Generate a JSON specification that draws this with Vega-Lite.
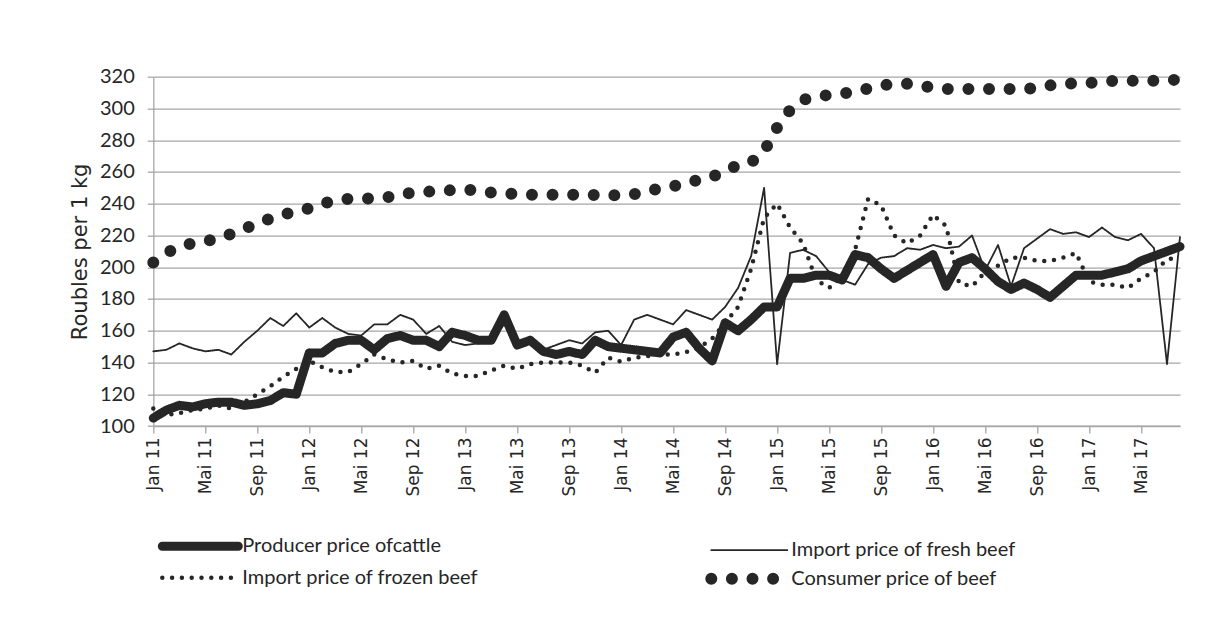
{
"$schema":"https://vega.github.io/schema/vega-lite/v6.json",
"autosize":"none",
"width":1026.7,
"height":349.3,
"padding":{"left":153.3,"top":76.7,"right":35,"bottom":211},
"background":"white",
"config":{"view":{"stroke":null}},
"data":{"values":[
{"m":"Jan 11","s":"Producer price ofcattle","v":105},{"m":"Feb 11","s":"Producer price ofcattle","v":110},{"m":"Mär 11","s":"Producer price ofcattle","v":113},{"m":"Apr 11","s":"Producer price ofcattle","v":112},{"m":"Mai 11","s":"Producer price ofcattle","v":114},{"m":"Jun 11","s":"Producer price ofcattle","v":115},{"m":"Jul 11","s":"Producer price ofcattle","v":115},{"m":"Aug 11","s":"Producer price ofcattle","v":113},{"m":"Sep 11","s":"Producer price ofcattle","v":114},{"m":"Okt 11","s":"Producer price ofcattle","v":116},{"m":"Nov 11","s":"Producer price ofcattle","v":121},{"m":"Dez 11","s":"Producer price ofcattle","v":120},
{"m":"Jan 12","s":"Producer price ofcattle","v":146},{"m":"Feb 12","s":"Producer price ofcattle","v":146},{"m":"Mär 12","s":"Producer price ofcattle","v":152},{"m":"Apr 12","s":"Producer price ofcattle","v":154},{"m":"Mai 12","s":"Producer price ofcattle","v":154},{"m":"Jun 12","s":"Producer price ofcattle","v":148},{"m":"Jul 12","s":"Producer price ofcattle","v":155},{"m":"Aug 12","s":"Producer price ofcattle","v":157},{"m":"Sep 12","s":"Producer price ofcattle","v":154},{"m":"Okt 12","s":"Producer price ofcattle","v":154},{"m":"Nov 12","s":"Producer price ofcattle","v":150},{"m":"Dez 12","s":"Producer price ofcattle","v":159},
{"m":"Jan 13","s":"Producer price ofcattle","v":157},{"m":"Feb 13","s":"Producer price ofcattle","v":154},{"m":"Mär 13","s":"Producer price ofcattle","v":154},{"m":"Apr 13","s":"Producer price ofcattle","v":170},{"m":"Mai 13","s":"Producer price ofcattle","v":151},{"m":"Jun 13","s":"Producer price ofcattle","v":154},{"m":"Jul 13","s":"Producer price ofcattle","v":147},{"m":"Aug 13","s":"Producer price ofcattle","v":145},{"m":"Sep 13","s":"Producer price ofcattle","v":147},{"m":"Okt 13","s":"Producer price ofcattle","v":145},{"m":"Nov 13","s":"Producer price ofcattle","v":154},{"m":"Dez 13","s":"Producer price ofcattle","v":150},
{"m":"Jan 14","s":"Producer price ofcattle","v":149},{"m":"Feb 14","s":"Producer price ofcattle","v":148},{"m":"Mär 14","s":"Producer price ofcattle","v":147},{"m":"Apr 14","s":"Producer price ofcattle","v":146},{"m":"Mai 14","s":"Producer price ofcattle","v":156},{"m":"Jun 14","s":"Producer price ofcattle","v":159},{"m":"Jul 14","s":"Producer price ofcattle","v":149},{"m":"Aug 14","s":"Producer price ofcattle","v":141},{"m":"Sep 14","s":"Producer price ofcattle","v":165},{"m":"Okt 14","s":"Producer price ofcattle","v":160},{"m":"Nov 14","s":"Producer price ofcattle","v":167},{"m":"Dez 14","s":"Producer price ofcattle","v":175},
{"m":"Jan 15","s":"Producer price ofcattle","v":175},{"m":"Feb 15","s":"Producer price ofcattle","v":193},{"m":"Mär 15","s":"Producer price ofcattle","v":193},{"m":"Apr 15","s":"Producer price ofcattle","v":195},{"m":"Mai 15","s":"Producer price ofcattle","v":195},{"m":"Jun 15","s":"Producer price ofcattle","v":192},{"m":"Jul 15","s":"Producer price ofcattle","v":208},{"m":"Aug 15","s":"Producer price ofcattle","v":206},{"m":"Sep 15","s":"Producer price ofcattle","v":199},{"m":"Okt 15","s":"Producer price ofcattle","v":193},{"m":"Nov 15","s":"Producer price ofcattle","v":198},{"m":"Dez 15","s":"Producer price ofcattle","v":203},
{"m":"Jan 16","s":"Producer price ofcattle","v":208},{"m":"Feb 16","s":"Producer price ofcattle","v":188},{"m":"Mär 16","s":"Producer price ofcattle","v":203},{"m":"Apr 16","s":"Producer price ofcattle","v":206},{"m":"Mai 16","s":"Producer price ofcattle","v":199},{"m":"Jun 16","s":"Producer price ofcattle","v":191},{"m":"Jul 16","s":"Producer price ofcattle","v":186},{"m":"Aug 16","s":"Producer price ofcattle","v":190},{"m":"Sep 16","s":"Producer price ofcattle","v":186},{"m":"Okt 16","s":"Producer price ofcattle","v":181},{"m":"Nov 16","s":"Producer price ofcattle","v":188},{"m":"Dez 16","s":"Producer price ofcattle","v":195},
{"m":"Jan 17","s":"Producer price ofcattle","v":195},{"m":"Feb 17","s":"Producer price ofcattle","v":195},{"m":"Mär 17","s":"Producer price ofcattle","v":197},{"m":"Apr 17","s":"Producer price ofcattle","v":199},{"m":"Mai 17","s":"Producer price ofcattle","v":204},{"m":"Jun 17","s":"Producer price ofcattle","v":207},{"m":"Jul 17","s":"Producer price ofcattle","v":210},{"m":"Aug 17","s":"Producer price ofcattle","v":213},

{"m":"Jan 11","s":"Import price of fresh beef","v":147},{"m":"Feb 11","s":"Import price of fresh beef","v":148},{"m":"Mär 11","s":"Import price of fresh beef","v":152},{"m":"Apr 11","s":"Import price of fresh beef","v":149},{"m":"Mai 11","s":"Import price of fresh beef","v":147},{"m":"Jun 11","s":"Import price of fresh beef","v":148},{"m":"Jul 11","s":"Import price of fresh beef","v":145},{"m":"Aug 11","s":"Import price of fresh beef","v":153},{"m":"Sep 11","s":"Import price of fresh beef","v":160},{"m":"Okt 11","s":"Import price of fresh beef","v":168},{"m":"Nov 11","s":"Import price of fresh beef","v":163},{"m":"Dez 11","s":"Import price of fresh beef","v":171},
{"m":"Jan 12","s":"Import price of fresh beef","v":162},{"m":"Feb 12","s":"Import price of fresh beef","v":168},{"m":"Mär 12","s":"Import price of fresh beef","v":162},{"m":"Apr 12","s":"Import price of fresh beef","v":158},{"m":"Mai 12","s":"Import price of fresh beef","v":157},{"m":"Jun 12","s":"Import price of fresh beef","v":164},{"m":"Jul 12","s":"Import price of fresh beef","v":164},{"m":"Aug 12","s":"Import price of fresh beef","v":170},{"m":"Sep 12","s":"Import price of fresh beef","v":167},{"m":"Okt 12","s":"Import price of fresh beef","v":158},{"m":"Nov 12","s":"Import price of fresh beef","v":163},{"m":"Dez 12","s":"Import price of fresh beef","v":153},
{"m":"Jan 13","s":"Import price of fresh beef","v":151},{"m":"Feb 13","s":"Import price of fresh beef","v":152},{"m":"Mär 13","s":"Import price of fresh beef","v":154},{"m":"Apr 13","s":"Import price of fresh beef","v":164},{"m":"Mai 13","s":"Import price of fresh beef","v":153},{"m":"Jun 13","s":"Import price of fresh beef","v":152},{"m":"Jul 13","s":"Import price of fresh beef","v":148},{"m":"Aug 13","s":"Import price of fresh beef","v":151},{"m":"Sep 13","s":"Import price of fresh beef","v":154},{"m":"Okt 13","s":"Import price of fresh beef","v":152},{"m":"Nov 13","s":"Import price of fresh beef","v":159},{"m":"Dez 13","s":"Import price of fresh beef","v":160},
{"m":"Jan 14","s":"Import price of fresh beef","v":151},{"m":"Feb 14","s":"Import price of fresh beef","v":167},{"m":"Mär 14","s":"Import price of fresh beef","v":170},{"m":"Apr 14","s":"Import price of fresh beef","v":167},{"m":"Mai 14","s":"Import price of fresh beef","v":164},{"m":"Jun 14","s":"Import price of fresh beef","v":173},{"m":"Jul 14","s":"Import price of fresh beef","v":170},{"m":"Aug 14","s":"Import price of fresh beef","v":167},{"m":"Sep 14","s":"Import price of fresh beef","v":175},{"m":"Okt 14","s":"Import price of fresh beef","v":187},{"m":"Nov 14","s":"Import price of fresh beef","v":207},{"m":"Dez 14","s":"Import price of fresh beef","v":250},
{"m":"Jan 15","s":"Import price of fresh beef","v":139},{"m":"Feb 15","s":"Import price of fresh beef","v":209},{"m":"Mär 15","s":"Import price of fresh beef","v":211},{"m":"Apr 15","s":"Import price of fresh beef","v":207},{"m":"Mai 15","s":"Import price of fresh beef","v":197},{"m":"Jun 15","s":"Import price of fresh beef","v":192},{"m":"Jul 15","s":"Import price of fresh beef","v":189},{"m":"Aug 15","s":"Import price of fresh beef","v":202},{"m":"Sep 15","s":"Import price of fresh beef","v":206},{"m":"Okt 15","s":"Import price of fresh beef","v":207},{"m":"Nov 15","s":"Import price of fresh beef","v":212},{"m":"Dez 15","s":"Import price of fresh beef","v":211},
{"m":"Jan 16","s":"Import price of fresh beef","v":214},{"m":"Feb 16","s":"Import price of fresh beef","v":212},{"m":"Mär 16","s":"Import price of fresh beef","v":213},{"m":"Apr 16","s":"Import price of fresh beef","v":220},{"m":"Mai 16","s":"Import price of fresh beef","v":198},{"m":"Jun 16","s":"Import price of fresh beef","v":214},{"m":"Jul 16","s":"Import price of fresh beef","v":188},{"m":"Aug 16","s":"Import price of fresh beef","v":212},{"m":"Sep 16","s":"Import price of fresh beef","v":218},{"m":"Okt 16","s":"Import price of fresh beef","v":224},{"m":"Nov 16","s":"Import price of fresh beef","v":221},{"m":"Dez 16","s":"Import price of fresh beef","v":222},
{"m":"Jan 17","s":"Import price of fresh beef","v":219},{"m":"Feb 17","s":"Import price of fresh beef","v":225},{"m":"Mär 17","s":"Import price of fresh beef","v":219},{"m":"Apr 17","s":"Import price of fresh beef","v":217},{"m":"Mai 17","s":"Import price of fresh beef","v":221},{"m":"Jun 17","s":"Import price of fresh beef","v":212},{"m":"Jul 17","s":"Import price of fresh beef","v":139},{"m":"Aug 17","s":"Import price of fresh beef","v":219},

{"m":"Jan 11","s":"Import price of frozen beef","v":111},{"m":"Feb 11","s":"Import price of frozen beef","v":107},{"m":"Mär 11","s":"Import price of frozen beef","v":108},{"m":"Apr 11","s":"Import price of frozen beef","v":110},{"m":"Mai 11","s":"Import price of frozen beef","v":111},{"m":"Jun 11","s":"Import price of frozen beef","v":113},{"m":"Jul 11","s":"Import price of frozen beef","v":111},{"m":"Aug 11","s":"Import price of frozen beef","v":115},{"m":"Sep 11","s":"Import price of frozen beef","v":120},{"m":"Okt 11","s":"Import price of frozen beef","v":125},{"m":"Nov 11","s":"Import price of frozen beef","v":131},{"m":"Dez 11","s":"Import price of frozen beef","v":136},
{"m":"Jan 12","s":"Import price of frozen beef","v":141},{"m":"Feb 12","s":"Import price of frozen beef","v":137},{"m":"Mär 12","s":"Import price of frozen beef","v":134},{"m":"Apr 12","s":"Import price of frozen beef","v":134},{"m":"Mai 12","s":"Import price of frozen beef","v":139},{"m":"Jun 12","s":"Import price of frozen beef","v":145},{"m":"Jul 12","s":"Import price of frozen beef","v":142},{"m":"Aug 12","s":"Import price of frozen beef","v":140},{"m":"Sep 12","s":"Import price of frozen beef","v":141},{"m":"Okt 12","s":"Import price of frozen beef","v":136},{"m":"Nov 12","s":"Import price of frozen beef","v":138},{"m":"Dez 12","s":"Import price of frozen beef","v":133},
{"m":"Jan 13","s":"Import price of frozen beef","v":131.5},{"m":"Feb 13","s":"Import price of frozen beef","v":131.5},{"m":"Mär 13","s":"Import price of frozen beef","v":135},{"m":"Apr 13","s":"Import price of frozen beef","v":138},{"m":"Mai 13","s":"Import price of frozen beef","v":136},{"m":"Jun 13","s":"Import price of frozen beef","v":139},{"m":"Jul 13","s":"Import price of frozen beef","v":140},{"m":"Aug 13","s":"Import price of frozen beef","v":140},{"m":"Sep 13","s":"Import price of frozen beef","v":140},{"m":"Okt 13","s":"Import price of frozen beef","v":138},{"m":"Nov 13","s":"Import price of frozen beef","v":133.5},{"m":"Dez 13","s":"Import price of frozen beef","v":143},
{"m":"Jan 14","s":"Import price of frozen beef","v":140.5},{"m":"Feb 14","s":"Import price of frozen beef","v":143},{"m":"Mär 14","s":"Import price of frozen beef","v":144},{"m":"Apr 14","s":"Import price of frozen beef","v":145},{"m":"Mai 14","s":"Import price of frozen beef","v":145},{"m":"Jun 14","s":"Import price of frozen beef","v":146.5},{"m":"Jul 14","s":"Import price of frozen beef","v":149.5},{"m":"Aug 14","s":"Import price of frozen beef","v":155},{"m":"Sep 14","s":"Import price of frozen beef","v":165},{"m":"Okt 14","s":"Import price of frozen beef","v":175},{"m":"Nov 14","s":"Import price of frozen beef","v":199},{"m":"Dez 14","s":"Import price of frozen beef","v":231},
{"m":"Jan 15","s":"Import price of frozen beef","v":240},{"m":"Feb 15","s":"Import price of frozen beef","v":225},{"m":"Mär 15","s":"Import price of frozen beef","v":215},{"m":"Apr 15","s":"Import price of frozen beef","v":192},{"m":"Mai 15","s":"Import price of frozen beef","v":187},{"m":"Jun 15","s":"Import price of frozen beef","v":194},{"m":"Jul 15","s":"Import price of frozen beef","v":211},{"m":"Aug 15","s":"Import price of frozen beef","v":243},{"m":"Sep 15","s":"Import price of frozen beef","v":239},{"m":"Okt 15","s":"Import price of frozen beef","v":220},{"m":"Nov 15","s":"Import price of frozen beef","v":215},{"m":"Dez 15","s":"Import price of frozen beef","v":220},
{"m":"Jan 16","s":"Import price of frozen beef","v":233},{"m":"Feb 16","s":"Import price of frozen beef","v":226},{"m":"Mär 16","s":"Import price of frozen beef","v":190},{"m":"Apr 16","s":"Import price of frozen beef","v":188},{"m":"Mai 16","s":"Import price of frozen beef","v":197},{"m":"Jun 16","s":"Import price of frozen beef","v":201},{"m":"Jul 16","s":"Import price of frozen beef","v":206},{"m":"Aug 16","s":"Import price of frozen beef","v":206},{"m":"Sep 16","s":"Import price of frozen beef","v":204},{"m":"Okt 16","s":"Import price of frozen beef","v":204},{"m":"Nov 16","s":"Import price of frozen beef","v":206},{"m":"Dez 16","s":"Import price of frozen beef","v":209},
{"m":"Jan 17","s":"Import price of frozen beef","v":191},{"m":"Feb 17","s":"Import price of frozen beef","v":189},{"m":"Mär 17","s":"Import price of frozen beef","v":189},{"m":"Apr 17","s":"Import price of frozen beef","v":187},{"m":"Mai 17","s":"Import price of frozen beef","v":193},{"m":"Jun 17","s":"Import price of frozen beef","v":197},{"m":"Jul 17","s":"Import price of frozen beef","v":205},{"m":"Aug 17","s":"Import price of frozen beef","v":206},

{"m":"Jan 11","s":"Consumer price of beef","v":203},{"m":"Feb 11","s":"Consumer price of beef","v":209},{"m":"Mär 11","s":"Consumer price of beef","v":213},{"m":"Apr 11","s":"Consumer price of beef","v":215},{"m":"Mai 11","s":"Consumer price of beef","v":216.5},{"m":"Jun 11","s":"Consumer price of beef","v":218},{"m":"Jul 11","s":"Consumer price of beef","v":221},{"m":"Aug 11","s":"Consumer price of beef","v":224},{"m":"Sep 11","s":"Consumer price of beef","v":228},{"m":"Okt 11","s":"Consumer price of beef","v":230.5},{"m":"Nov 11","s":"Consumer price of beef","v":233},{"m":"Dez 11","s":"Consumer price of beef","v":235.5},
{"m":"Jan 12","s":"Consumer price of beef","v":237},{"m":"Feb 12","s":"Consumer price of beef","v":240},{"m":"Mär 12","s":"Consumer price of beef","v":242},{"m":"Apr 12","s":"Consumer price of beef","v":243},{"m":"Mai 12","s":"Consumer price of beef","v":243},{"m":"Jun 12","s":"Consumer price of beef","v":243.5},{"m":"Jul 12","s":"Consumer price of beef","v":244},{"m":"Aug 12","s":"Consumer price of beef","v":246},{"m":"Sep 12","s":"Consumer price of beef","v":247},{"m":"Okt 12","s":"Consumer price of beef","v":247.5},{"m":"Nov 12","s":"Consumer price of beef","v":248},{"m":"Dez 12","s":"Consumer price of beef","v":248.5},
{"m":"Jan 13","s":"Consumer price of beef","v":249},{"m":"Feb 13","s":"Consumer price of beef","v":248},{"m":"Mär 13","s":"Consumer price of beef","v":247},{"m":"Apr 13","s":"Consumer price of beef","v":246.5},{"m":"Mai 13","s":"Consumer price of beef","v":246},{"m":"Jun 13","s":"Consumer price of beef","v":245.7},{"m":"Jul 13","s":"Consumer price of beef","v":245.7},{"m":"Aug 13","s":"Consumer price of beef","v":245.7},{"m":"Sep 13","s":"Consumer price of beef","v":245.7},{"m":"Okt 13","s":"Consumer price of beef","v":245.7},{"m":"Nov 13","s":"Consumer price of beef","v":245.5},{"m":"Dez 13","s":"Consumer price of beef","v":245.3},
{"m":"Jan 14","s":"Consumer price of beef","v":245.5},{"m":"Feb 14","s":"Consumer price of beef","v":246},{"m":"Mär 14","s":"Consumer price of beef","v":248},{"m":"Apr 14","s":"Consumer price of beef","v":249.5},{"m":"Mai 14","s":"Consumer price of beef","v":251},{"m":"Jun 14","s":"Consumer price of beef","v":253},{"m":"Jul 14","s":"Consumer price of beef","v":255},{"m":"Aug 14","s":"Consumer price of beef","v":257},{"m":"Sep 14","s":"Consumer price of beef","v":260.5},{"m":"Okt 14","s":"Consumer price of beef","v":264.5},{"m":"Nov 14","s":"Consumer price of beef","v":266},{"m":"Dez 14","s":"Consumer price of beef","v":273},
{"m":"Jan 15","s":"Consumer price of beef","v":288},{"m":"Feb 15","s":"Consumer price of beef","v":299},{"m":"Mär 15","s":"Consumer price of beef","v":305.5},{"m":"Apr 15","s":"Consumer price of beef","v":307.5},{"m":"Mai 15","s":"Consumer price of beef","v":308.5},{"m":"Jun 15","s":"Consumer price of beef","v":309.3},{"m":"Jul 15","s":"Consumer price of beef","v":310.5},{"m":"Aug 15","s":"Consumer price of beef","v":312.5},{"m":"Sep 15","s":"Consumer price of beef","v":314.4},{"m":"Okt 15","s":"Consumer price of beef","v":315.5},{"m":"Nov 15","s":"Consumer price of beef","v":315.5},{"m":"Dez 15","s":"Consumer price of beef","v":314.5},
{"m":"Jan 16","s":"Consumer price of beef","v":313},{"m":"Feb 16","s":"Consumer price of beef","v":312.2},{"m":"Mär 16","s":"Consumer price of beef","v":312.2},{"m":"Apr 16","s":"Consumer price of beef","v":312.2},{"m":"Mai 16","s":"Consumer price of beef","v":312.2},{"m":"Jun 16","s":"Consumer price of beef","v":312.2},{"m":"Jul 16","s":"Consumer price of beef","v":312.2},{"m":"Aug 16","s":"Consumer price of beef","v":312.2},{"m":"Sep 16","s":"Consumer price of beef","v":313},{"m":"Okt 16","s":"Consumer price of beef","v":314.5},{"m":"Nov 16","s":"Consumer price of beef","v":315.5},{"m":"Dez 16","s":"Consumer price of beef","v":315.8},
{"m":"Jan 17","s":"Consumer price of beef","v":316},{"m":"Feb 17","s":"Consumer price of beef","v":317},{"m":"Mär 17","s":"Consumer price of beef","v":317.3},{"m":"Apr 17","s":"Consumer price of beef","v":317.3},{"m":"Mai 17","s":"Consumer price of beef","v":317.5},{"m":"Jun 17","s":"Consumer price of beef","v":317.5},{"m":"Jul 17","s":"Consumer price of beef","v":318},{"m":"Aug 17","s":"Consumer price of beef","v":318}
]},
"mark":{"type":"line","color":"#262626","strokeCap":"round","strokeJoin":"round"},
"encoding":{
"x":{"field":"m","type":"ordinal","sort":null,"scale":{"type":"point","padding":0},
"axis":{"title":null,"values":["Jan 11","Mai 11","Sep 11","Jan 12","Mai 12","Sep 12","Jan 13","Mai 13","Sep 13","Jan 14","Mai 14","Sep 14","Jan 15","Mai 15","Sep 15","Jan 16","Mai 16","Sep 16","Jan 17","Mai 17"],
"labelAngle":270,"labelAlign":"right","labelBaseline":"middle","labelFont":"DejaVu Sans","labelFontSize":17,"labelColor":"#262626","labelPadding":4,
"tickSize":7,"tickColor":"#a6a6a6","tickWidth":1.3,"domainColor":"#a6a6a6","domainWidth":1.3,"grid":false}},
"y":{"field":"v","type":"quantitative","scale":{"domain":[100,320],"nice":false,"zero":false},
"axis":{"title":"Roubles per 1 kg","titleFont":"DejaVu Sans","titleFontSize":21,"titleFontWeight":"normal","titleColor":"#262626","titlePadding":9,
"values":[100,120,140,160,180,200,220,240,260,280,300,320],"labelFont":"Lato","labelFontSize":20,"labelColor":"#262626","labelPadding":13,
"tickSize":6,"tickColor":"#a6a6a6","tickWidth":1.3,"domainColor":"#a6a6a6","domainWidth":1.3,"grid":true,"gridColor":"#a6a6a6","gridWidth":1.3}},
"strokeWidth":{"field":"s","type":"nominal",
"scale":{"type":"ordinal","domain":["Producer price ofcattle","Import price of frozen beef","Import price of fresh beef","Consumer price of beef"],"range":[9,4.5,1.8,12]},
"legend":{"title":null,"orient":"none","legendX":36,"legendY":456,"columns":2,"columnPadding":209,"rowPadding":-14,"padding":0,"gridAlign":"all",
"symbolType":"M-7.6,0L7.6,0","symbolSize":100,"symbolStrokeColor":"#262626","labelFont":"Lato","labelFontSize":20,"labelColor":"#262626","labelOffset":31,"labelLimit":400,
"encode":{"symbols":{"update":{"strokeCap":{"value":"round"}}}}}},
"strokeDash":{"field":"s","type":"nominal",
"scale":{"domain":["Producer price ofcattle","Import price of frozen beef","Import price of fresh beef","Consumer price of beef"],"range":[[1,0],[0,9.8],[1,0],[0,20.6]]},
"legend":{"title":null,"orient":"none","legendX":36,"legendY":456,"columns":2,"columnPadding":209,"rowPadding":-14,"padding":0,"gridAlign":"all",
"symbolType":"M-7.6,0L7.6,0","symbolSize":100,"symbolStrokeColor":"#262626","labelFont":"Lato","labelFontSize":20,"labelColor":"#262626","labelOffset":31,"labelLimit":400,
"encode":{"symbols":{"update":{"strokeCap":{"value":"round"}}}}}}
}
}
